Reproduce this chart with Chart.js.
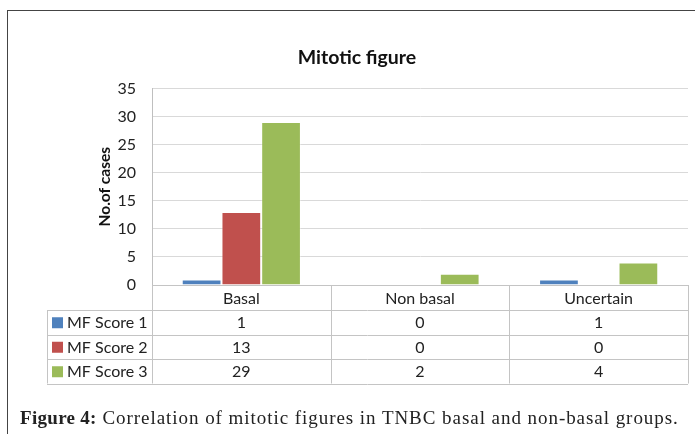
<!DOCTYPE html>
<html>
<head>
<meta charset="utf-8">
<script src="https://cdn.jsdelivr.net/npm/chart.js@4"></script>
<style>
  html, body { margin: 0; padding: 0; background: #fff; }
  body { width: 695px; height: 434px; position: relative; overflow: hidden; }
  .frame {
    position: absolute; left: 7px; top: 10px; width: 720px; height: 460px;
    border-left: 1.5px solid #444; border-top: 1.5px solid #444;
  }
  #chart { position: absolute; left: 0; top: 0; }
  .caption {
    position: absolute; left: 20px; top: 407px; white-space: nowrap;
    font-family: "Liberation Serif", "DejaVu Serif", serif; font-size: 19px;
    letter-spacing: 0.95px; color: #222;
  }
  .caption b { font-weight: bold; letter-spacing: 0.3px; }
</style>
</head>
<body>
<div class="frame"></div>
<canvas id="chart"></canvas>
<div class="caption"><b>Figure 4:</b> Correlation of mitotic figures in TNBC basal and non-basal groups.</div>
<script>
const categories = ['Basal', 'Non basal', 'Uncertain'];
const seriesNames = ['MF Score 1', 'MF Score 2', 'MF Score 3'];
const mfScore1 = [1, 0, 1];
const mfScore2 = [13, 0, 0];
const mfScore3 = [29, 2, 4];
const yTicks = [0, 5, 10, 15, 20, 25, 30, 35];

const colors = ['#4f81bd', '#c0504d', '#9bbb59'];
const series = [mfScore1, mfScore2, mfScore3];
const FONT = 'Lato, "Open Sans", sans-serif';

const canvas = document.getElementById('chart');
const dpr = window.devicePixelRatio || 1;
canvas.width = 695 * dpr;
canvas.height = 434 * dpr;
canvas.style.width = '695px';
canvas.style.height = '434px';

// data table under the plot, laid out from the x scale
const dataTable = {
  id: 'dataTable',
  afterDraw(chart) {
    const ctx = chart.ctx;
    const area = chart.chartArea;
    const x = chart.scales.x;
    const catW = (area.right - area.left) / categories.length;
    const legendLeft = 47;
    const headH = 25, rowH = 24.5;
    const top = area.bottom;
    const bodyTop = top + headH;
    const bottom = bodyTop + rowH * series.length;

    ctx.save();
    ctx.strokeStyle = '#c4c4c4';
    ctx.lineWidth = 1;
    ctx.beginPath();
    ctx.moveTo(area.left, top + 0.5); ctx.lineTo(area.right, top + 0.5);
    for (let r = 0; r <= series.length; r++) {
      const y = Math.round(bodyTop + r * rowH) + 0.5;
      ctx.moveTo(legendLeft, y); ctx.lineTo(area.right, y);
    }
    ctx.moveTo(legendLeft + 0.5, bodyTop); ctx.lineTo(legendLeft + 0.5, bottom);
    for (let i = 0; i <= categories.length; i++) {
      const vx = Math.round(area.left + i * catW) + 0.5;
      ctx.moveTo(vx, top); ctx.lineTo(vx, bottom);
    }
    ctx.stroke();

    ctx.font = '16px ' + FONT;
    ctx.fillStyle = '#222';
    ctx.textBaseline = 'middle';
    ctx.textAlign = 'center';
    categories.forEach((c, i) => {
      ctx.fillText(c, x.getPixelForValue(i), top + headH / 2 + 1);
    });
    series.forEach((vals, r) => {
      const cy = bodyTop + rowH * r + rowH / 2 + 1;
      ctx.textAlign = 'center';
      vals.forEach((v, i) => ctx.fillText(String(v), x.getPixelForValue(i), cy));
      ctx.fillStyle = colors[r];
      ctx.fillRect(legendLeft + 5, cy - 6, 11, 11);
      ctx.fillStyle = '#222';
      ctx.textAlign = 'left';
      ctx.fillText(seriesNames[r], legendLeft + 20, cy);
    });
    ctx.restore();
  }
};

new Chart(canvas, {
  type: 'bar',
  data: {
    labels: categories,
    datasets: series.map((vals, i) => ({
      label: seriesNames[i],
      data: vals,
      backgroundColor: colors[i],
      borderColor: 'rgba(255,255,255,0.35)',
      borderWidth: 1,
      barPercentage: 1,
      categoryPercentage: 0.667
    }))
  },
  options: {
    responsive: false,
    animation: false,
    devicePixelRatio: dpr,
    layout: { padding: { left: 26, right: 7, top: 0, bottom: 149 } },
    plugins: {
      legend: { display: false },
      tooltip: { enabled: false },
      title: {
        display: true,
        text: 'Mitotic figure',
        color: '#111',
        font: { family: FONT, size: 19.5, weight: 'bold' },
        padding: { top: 46, bottom: 19 }
      }
    },
    scales: {
      x: { display: false },
      y: {
        min: yTicks[0],
        max: yTicks[yTicks.length - 1],
        afterBuildTicks: s => { s.ticks = yTicks.map(v => ({ value: v })); },
        afterFit: s => { s.width = 126; },
        grid: { color: '#d9d9d9', drawTicks: false },
        border: { color: '#bfbfbf' },
        ticks: { color: '#222', padding: 16, font: { family: FONT, size: 16 } },
        title: {
          display: true,
          text: 'No.of cases',
          color: '#111',
          font: { family: FONT, size: 15.5, weight: 'bold' },
          padding: { top: 70, bottom: 0 }
        }
      }
    }
  },
  plugins: [dataTable]
});
</script>
</body>
</html>
